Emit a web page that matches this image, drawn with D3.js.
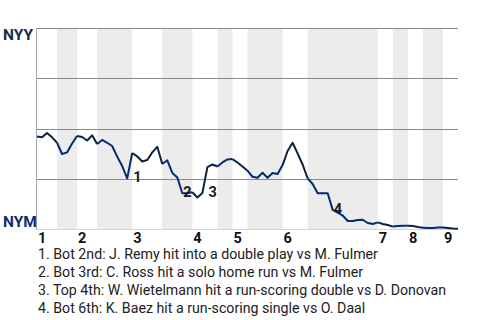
<!DOCTYPE html>
<html>
<head>
<meta charset="utf-8">
<script src="https://cdn.jsdelivr.net/npm/d3@7"></script>
<style>
  html, body { margin: 0; padding: 0; background: #fff; }
  svg { display: block; font-family: Roboto, "Noto Sans", sans-serif; }
</style>
</head>
<body>
<svg id="chart" width="480" height="320"></svg>
<script>
// NYY win probability (%) after each plate appearance, first pitch to final out
const winProb = [
  46.0, 45.6, 47.8, 45.6, 42.9, 37.3, 38.1, 42.5, 46.3, 45.8,
  44.0, 46.6, 42.3, 44.3, 42.9, 41.3, 36.0, 31.3, 25.2, 37.8,
  36.1, 33.6, 34.3, 38.1, 40.9, 32.3, 34.2, 27.9, 25.6, 17.8,
  17.8, 18.3, 15.7, 17.9, 30.8, 32.1, 31.1, 33.1, 34.6, 34.8,
  33.1, 31.1, 29.0, 26.0, 25.5, 28.0, 25.5, 27.9, 27.4, 31.8,
  38.8, 42.9, 37.6, 32.1, 25.2, 22.4, 17.8, 17.8, 17.8, 9.5,
  8.2, 6.7, 4.0, 4.0, 4.5, 4.6, 3.0, 2.5, 3.3, 2.5,
  2.0, 1.2, 1.5, 1.6, 1.6, 1.5, 1.0, 0.6, 0.5, 0.5,
  0.7, 0.7, 0.5, 0.2, 0.1
];

// Plate appearances in each half-inning (top 1st, bot 1st, ... top 9th)
const halfInningPlays = [4, 4, 4, 7, 6, 6, 5, 3, 3, 7, 5, 14, 3, 3, 3, 4, 3];

// Inning numbers along the bottom
const inningLabels = ["1", "2", "3", "4", "5", "6", "7", "8", "9"];

// Team names at the ends of the scale
const teamTop = "NYY";
const teamBottom = "NYM";

// Key plays: index of the plate appearance and its description
const keyPlays = [19, 29, 34, 59];
const keyPlayNotes = [
  "1. Bot 2nd: J. Remy hit into a double play vs M. Fulmer",
  "2. Bot 3rd: C. Ross hit a solo home run vs M. Fulmer",
  "3. Top 4th: W. Wietelmann hit a run-scoring double vs D. Donovan",
  "4. Bot 6th: K. Baez hit a run-scoring single vs O. Daal"
];

const gridValues = [25, 50, 75, 100];

const svg = d3.select("#chart");
const plotLeft = 37, plotRight = 458, plotTop = 28, plotBottom = 229;

const x = d3.scaleLinear().domain([0, winProb.length - 1]).range([plotLeft, plotRight]);
const y = d3.scaleLinear().domain([0, 100]).range([plotBottom, plotTop]);

// Half-inning boundaries as plate-appearance indices
const bounds = [0];
halfInningPlays.forEach(n => bounds.push(bounds[bounds.length - 1] + n));
const halves = halfInningPlays.map((n, i) => ({
  start: bounds[i], end: bounds[i + 1], isBottom: i % 2 === 1
}));

// Shaded bottom halves
svg.append("g").selectAll("rect")
  .data(halves.filter(h => h.isBottom))
  .join("rect")
  .attr("x", d => x(d.start))
  .attr("width", d => x(d.end) - x(d.start))
  .attr("y", plotTop)
  .attr("height", plotBottom - plotTop)
  .attr("fill", "#ececec");

// Horizontal gridlines
svg.append("g").selectAll("line")
  .data(gridValues)
  .join("line")
  .attr("x1", plotLeft).attr("x2", plotRight)
  .attr("y1", d => Math.round(y(d)) + 0.5)
  .attr("y2", d => Math.round(y(d)) + 0.5)
  .attr("stroke", "#8a8a8a")
  .attr("stroke-width", 1);

// Baseline and left edge
svg.append("line")
  .attr("x1", plotLeft).attr("x2", plotRight)
  .attr("y1", Math.round(y(0)) + 0.5).attr("y2", Math.round(y(0)) + 0.5)
  .attr("stroke", "#d6d6d6");
svg.append("line")
  .attr("x1", plotLeft - 0.5).attr("x2", plotLeft - 0.5)
  .attr("y1", plotTop).attr("y2", plotBottom + 1)
  .attr("stroke", "#a8a8a8");

// Win probability line, coloured by batting team in each half-inning
const line = d3.line()
  .x(d => x(d.i))
  .y(d => y(d.v));

svg.append("g").selectAll("path")
  .data(halves)
  .join("path")
  .attr("d", h => line(d3.range(h.start, h.end + 1).map(i => ({ i, v: winProb[i] }))))
  .attr("fill", "none")
  .attr("stroke", h => h.isBottom ? "#002d72" : "#0c2340")
  .attr("stroke-width", 2)
  .attr("stroke-linejoin", "round");

// Key play markers
svg.append("g").selectAll("text")
  .data(keyPlays)
  .join("text")
  .attr("x", d => x(d) + 1)
  .attr("y", d => y(Math.min(winProb[d - 1], winProb[d])) + 4)
  .attr("font-size", 14.5)
  .attr("font-weight", 700)
  .attr("fill", "#1a1a1a")
  .text((d, i) => i + 1);

// Inning numbers at the start of each inning
svg.append("g").selectAll("text")
  .data(inningLabels)
  .join("text")
  .attr("x", (d, i) => x(bounds[i * 2]) + 1)
  .attr("y", 243)
  .attr("font-size", 14.5)
  .attr("font-weight", 700)
  .attr("fill", "#111")
  .text(d => d);

// Team names
svg.append("text")
  .attr("x", 3).attr("y", 40)
  .attr("font-size", 15.5).attr("font-weight", 700)
  .attr("fill", "#1c2a48")
  .text(teamTop);
svg.append("text")
  .attr("x", 3).attr("y", 227)
  .attr("font-size", 15.5).attr("font-weight", 700)
  .attr("fill", "#0d2f6e")
  .text(teamBottom);

// Key play descriptions
svg.append("g").selectAll("text")
  .data(keyPlayNotes)
  .join("text")
  .attr("x", 38)
  .attr("y", (d, i) => 259 + i * 18)
  .attr("font-size", 14.2)
  .attr("fill", "#222")
  .text(d => d);
</script>
</body>
</html>
